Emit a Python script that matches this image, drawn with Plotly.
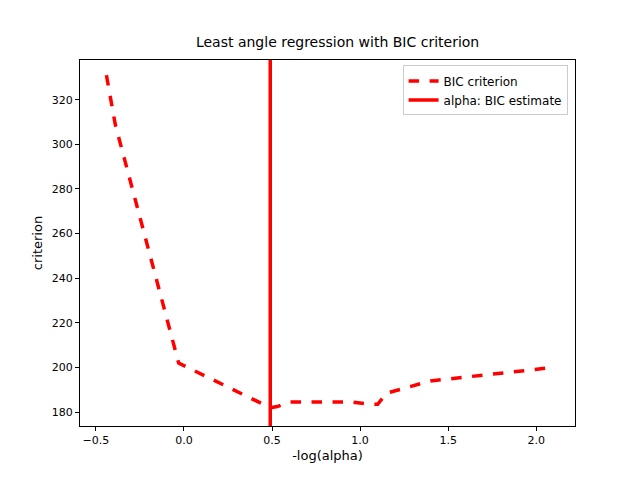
import plotly.graph_objects as go

neg_log_alpha = [-0.44, -0.39, -0.03, 0.49, 0.53, 0.60, 0.95, 1.05, 1.10, 1.15, 1.40, 2.07]
bic = [331, 309, 202, 182, 182.5, 184.5, 184.6, 183.6, 183.5, 188.5, 194, 199.8]
alpha_bic = 0.49

fig = go.Figure()
fig.add_trace(go.Scatter(x=neg_log_alpha, y=bic, mode="lines", name="BIC criterion",
                         line=dict(color="red", width=3.5, dash="dash")))
fig.add_trace(go.Scatter(x=[alpha_bic, alpha_bic], y=[170, 345], mode="lines",
                         name="alpha: BIC estimate", line=dict(color="red", width=3.5)))

axis = dict(showgrid=False, zeroline=False, showline=True, mirror=True, linecolor="black",
            ticks="outside", tickcolor="black", ticklen=4)
fig.update_layout(
    width=640, height=480, plot_bgcolor="white", paper_bgcolor="white",
    font=dict(family="DejaVu Sans", size=11, color="black"),
    title=dict(text="Least angle regression with BIC criterion", x=0.515, y=0.94,
               xanchor="center", font=dict(size=14)),
    margin=dict(l=72, r=73, t=52, b=62),
    xaxis=dict(axis, title=dict(text="-log(alpha)", standoff=4), range=[-0.59, 2.22],
               tickvals=[-0.5, 0, 0.5, 1, 1.5, 2.0], ticktext=["−0.5", "0.0", "0.5", "1.0", "1.5", "2.0"]),
    yaxis=dict(axis, title=dict(text="criterion", standoff=6), range=[173.8, 337.8],
               tickvals=list(range(180, 340, 20))),
    legend=dict(x=0.985, y=0.985, xanchor="right", yanchor="top", bordercolor="#cccccc",
                borderwidth=1, bgcolor="white", font=dict(size=12)),
)
fig.write_html("out.html")
